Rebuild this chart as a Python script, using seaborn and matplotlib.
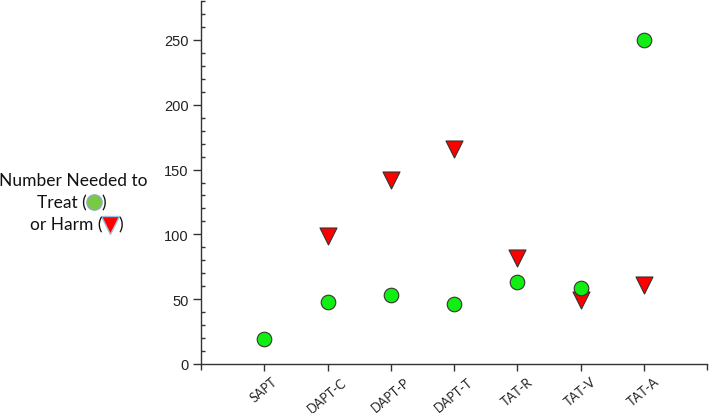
import matplotlib
matplotlib.use("Agg")
import matplotlib.pyplot as plt
from matplotlib.lines import Line2D
from matplotlib.ticker import MultipleLocator, FixedLocator
import seaborn as sns
import pandas as pd

categories = ["SAPT", "DAPT-C", "DAPT-P", "DAPT-T", "TAT-R", "TAT-V", "TAT-A"]
nnt_values = [19, 48, 53, 46, 63, 59, 250]
nnh_categories = ["DAPT-C", "DAPT-P", "DAPT-T", "TAT-R", "TAT-V", "TAT-A"]
nnh_values = [99, 142, 166, 82, 49, 61]
y_ticks = [0, 50, 100, 150, 200, 250]

sns.set_style("white")
plt.rcParams["font.family"] = ["Liberation Sans", "DejaVu Sans"]

df_t = pd.DataFrame({"cat": pd.Categorical(categories, categories=categories), "val": nnt_values})
df_h = pd.DataFrame({"cat": pd.Categorical(nnh_categories, categories=categories), "val": nnh_values})

fig = plt.figure(figsize=(7.09, 4.14), dpi=100)
ax = fig.add_axes([201 / 709, 49 / 414, 506 / 709, 363 / 414])

order_map = {c: i for i, c in enumerate(categories)}
df_t["x"] = df_t["cat"].map(order_map).astype(int)
df_h["x"] = df_h["cat"].map(order_map).astype(int)

sns.scatterplot(data=df_h, x="x", y="val", marker="v", s=150, color="#ff0000",
                edgecolor="#333333", linewidth=0.8, ax=ax, zorder=3)
sns.scatterplot(data=df_t, x="x", y="val", marker="o", s=110, color="#11ee11",
                edgecolor="#333333", linewidth=0.8, ax=ax, zorder=3)

ax.set_xlim(-1, 7)
ax.set_ylim(0, 280)
ax.set_xlabel("")
ax.set_ylabel("")

for s in ["top", "right"]:
    ax.spines[s].set_visible(False)
for s in ["left", "bottom"]:
    ax.spines[s].set_color("#333333")
    ax.spines[s].set_linewidth(1.0)

ax.yaxis.set_major_locator(FixedLocator(y_ticks))
ax.yaxis.set_minor_locator(MultipleLocator(10))
ax.set_yticklabels([str(t) for t in y_ticks], fontsize=10.5, color="#222222")
ax.tick_params(axis="y", which="major", direction="out", length=6, width=1, color="#333333", left=True, pad=3)
ax.tick_params(axis="y", which="minor", direction="in", length=3, width=1, color="#333333", left=True)

ax.xaxis.set_major_locator(FixedLocator(list(range(len(categories)))))
ax.xaxis.set_minor_locator(FixedLocator([-1, 7]))
ax.set_xticklabels(categories, rotation=40, ha="center", va="top",
                   fontsize=9.2, family=["Lato", "DejaVu Sans"], color="#222222")
ax.tick_params(axis="x", which="major", direction="out", length=5, width=1, color="#333333", bottom=True, pad=3)
ax.tick_params(axis="x", which="minor", direction="out", length=4, width=1, color="#333333", bottom=True)

# y-axis label with embedded symbols
lab_kw = dict(fontsize=12.5, family=["Lato", "DejaVu Sans"], color="#111111", va="center")
fig.text(73 / 709, 1 - 181 / 414, "Number Needed to", ha="center", **lab_kw)
fig.text(87 / 709, 1 - 203 / 414, "Treat (", ha="right", **lab_kw)
fig.text(101 / 709, 1 - 203 / 414, ")", ha="left", **lab_kw)
fig.text(102 / 709, 1 - 225 / 414, "or Harm (", ha="right", **lab_kw)
fig.text(118 / 709, 1 - 225 / 414, ")", ha="left", **lab_kw)
fig.add_artist(Line2D([94 / 709], [1 - 203 / 414], marker="o", markersize=11, color="#7ac943",
                      markeredgecolor="#8fa9c8", markeredgewidth=1, linestyle="none",
                      transform=fig.transFigure))
fig.add_artist(Line2D([110 / 709], [1 - 226 / 414], marker="v", markersize=13, color="#ff0000",
                      markeredgecolor="#9fc0e0", markeredgewidth=1, linestyle="none",
                      transform=fig.transFigure))

fig.savefig("out.png", dpi=100)
